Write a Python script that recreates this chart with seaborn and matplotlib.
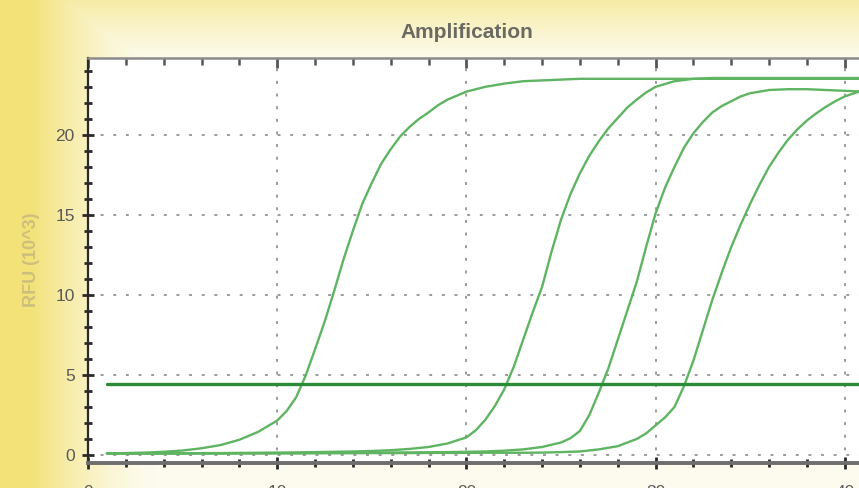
import numpy as np
import pandas as pd
import matplotlib
matplotlib.use("Agg")
import matplotlib.pyplot as plt
from matplotlib.ticker import MultipleLocator
import seaborn as sns

# ---- data ----
cycles = list(range(1, 42))
well_a = [0.10, 0.12, 0.15, 0.20, 0.28, 0.42, 0.62, 0.95, 1.45, 2.15,
          3.60, 6.60, 10.2, 14.0, 17.0, 19.1, 20.5, 21.4, 22.2, 22.7,
          23.0, 23.2, 23.35, 23.4, 23.45, 23.5, 23.5, 23.5, 23.5, 23.5,
          23.5, 23.5, 23.5, 23.5, 23.5, 23.5, 23.5, 23.5, 23.5, 23.5, 23.5]
well_b = [0.10, 0.10, 0.10, 0.10, 0.10, 0.12, 0.12, 0.13, 0.14, 0.15,
          0.16, 0.18, 0.20, 0.22, 0.25, 0.30, 0.38, 0.50, 0.72, 1.10,
          2.20, 4.10, 7.20, 10.5, 14.7, 17.6, 19.6, 21.05, 22.2, 23.0,
          23.35, 23.5, 23.55, 23.55, 23.55, 23.55, 23.55, 23.55, 23.55, 23.55, 23.55]
well_c = [0.10, 0.10, 0.10, 0.10, 0.10, 0.10, 0.10, 0.11, 0.11, 0.12,
          0.12, 0.13, 0.13, 0.14, 0.14, 0.15, 0.16, 0.17, 0.18, 0.20,
          0.22, 0.27, 0.35, 0.50, 0.78, 1.50, 3.90, 7.20, 10.8, 15.1,
          18.0, 20.1, 21.4, 22.1, 22.6, 22.8, 22.85, 22.85, 22.8, 22.75, 22.7]
well_d = [0.10, 0.10, 0.10, 0.10, 0.10, 0.10, 0.10, 0.10, 0.10, 0.10,
          0.10, 0.11, 0.11, 0.11, 0.12, 0.12, 0.12, 0.13, 0.13, 0.13,
          0.14, 0.14, 0.14, 0.15, 0.18, 0.22, 0.35, 0.55, 1.00, 1.85,
          3.00, 5.90, 9.70, 13.0, 15.7, 18.0, 19.7, 20.9, 21.75, 22.4, 22.8]

# extra half-cycle readings in the rising part of each curve
half_a_x = [10.5, 11.5, 12.5, 13.5, 14.5, 15.5, 16.5, 17.5, 18.5, 19.5]
half_a_y = [2.75, 4.95, 8.3, 12.2, 15.7, 18.2, 19.9, 21.0, 21.85, 22.45]
half_b_x = [20.5, 21.5, 22.5, 23.5, 24.5, 25.5, 26.5, 27.5, 28.5, 29.5]
half_b_y = [1.55, 3.05, 5.5, 8.9, 12.7, 16.3, 18.7, 20.4, 21.7, 22.65]
half_c_x = [25.5, 26.5, 27.5, 28.5, 29.5, 30.5, 31.5, 32.5, 33.5, 34.5]
half_c_y = [1.05, 2.5, 5.4, 9.0, 13.0, 16.7, 19.2, 20.8, 21.8, 22.4]
half_d_x = [29.5, 30.5, 31.5, 32.5, 33.5, 34.5, 35.5, 36.5, 37.5, 38.5, 39.5, 40.5]
half_d_y = [1.35, 2.35, 4.3, 7.8, 11.4, 14.4, 16.9, 18.9, 20.35, 21.35, 22.1, 22.6]

threshold = 4.45
threshold_range = [1, 45]

title = "Amplification"
ylabel = "RFU (10^3)"
xticks = [0, 10, 20, 30, 40]
yticks = [0, 5, 10, 15, 20]

# ---- figure ----
sns.set_theme(style="white")
plt.rcParams["font.family"] = ["Liberation Sans", "DejaVu Sans"]

W, H = 859, 488
fig = plt.figure(figsize=(W / 100, H / 100), dpi=100)

# background gradient (yellow left/top fading to cream-white)
bg = fig.add_axes([0, 0, 1, 1], zorder=-10)
xx, yy = np.meshgrid(np.arange(W), np.arange(H))
wl = np.clip(1 - (xx - 30) / 125.0, 0, 1) ** 1.5
wt = np.clip(1 - yy / 62.0, 0, 1) ** 1.2 * 0.62
w = np.maximum(wl, wt)
yellow = np.array([243, 226, 120]) / 255.0
cream = np.array([253, 251, 238]) / 255.0
img = cream[None, None, :] * (1 - w[..., None]) + yellow[None, None, :] * w[..., None]
bg.imshow(img, aspect="auto", extent=[0, W, H, 0])
bg.set_axis_off()

x_per_cycle = 18.92
xmax = 45
ax_left = 88 / W
ax_bottom = (H - 463) / H
ax_top = (H - 58) / H
ax = fig.add_axes([ax_left, ax_bottom, xmax * x_per_cycle / W, ax_top - ax_bottom])
ax.set_facecolor("white")

frames = []
for name, ys, hx, hy in [("A", well_a, half_a_x, half_a_y),
                         ("B", well_b, half_b_x, half_b_y),
                         ("C", well_c, half_c_x, half_c_y),
                         ("D", well_d, half_d_x, half_d_y)]:
    frames.append(pd.DataFrame({"cycle": cycles + hx, "rfu": ys + hy, "well": name}))
df = pd.concat(frames).sort_values(["well", "cycle"]).reset_index(drop=True)

curve_green = "#5fb462"
sns.lineplot(data=df, x="cycle", y="rfu", hue="well", units="well", estimator=None,
             palette=[curve_green] * 4, linewidth=1.7, legend=False, ax=ax, zorder=3)
for ln in ax.get_lines():
    ln.set_solid_joinstyle("round")
    ln.set_solid_capstyle("round")
sns.lineplot(x=threshold_range, y=[threshold, threshold], color="#2b8b37",
             linewidth=2.4, ax=ax, zorder=4)

ax.set_xlim(0, xmax)
ax.set_ylim(-0.5, 24.8)
ax.set_xticks(xticks)
ax.set_yticks(yticks)
ax.xaxis.set_minor_locator(MultipleLocator(2))
ax.yaxis.set_minor_locator(MultipleLocator(1))

ax.grid(True, which="major", color="#9a9a9a", linestyle=(0, (1.5, 5.0)), linewidth=1.4, zorder=1)

ax.spines["left"].set_color("#2a2a2a")
ax.spines["left"].set_linewidth(1.6)
ax.spines["bottom"].set_color("#6e6e6e")
ax.spines["bottom"].set_linewidth(2.8)
ax.spines["top"].set_color("#8a8a8a")
ax.spines["top"].set_linewidth(1.8)
ax.spines["right"].set_visible(False)

ax.tick_params(axis="both", which="major", direction="inout", length=9, width=2.0,
               color="#2a2a2a", labelsize=12.5, labelcolor="#5a5a5a")
ax.tick_params(axis="both", which="minor", direction="inout", length=6, width=2.0,
               color="#2a2a2a")
ax.tick_params(axis="y", which="major", pad=5, left=True)
ax.tick_params(axis="y", which="minor", left=True)
ax.tick_params(axis="x", which="major", pad=11, bottom=True)
ax.tick_params(axis="x", which="minor", bottom=True)

sec = ax.secondary_xaxis("top")
sec.set_xticks(xticks)
sec.xaxis.set_minor_locator(MultipleLocator(2))
sec.tick_params(which="major", direction="in", length=7, width=2.0, color="#555555", labeltop=False)
sec.tick_params(which="minor", direction="in", length=5, width=1.8, color="#555555")
sec.spines["top"].set_visible(False)

ax.set_xlabel("")
ax.set_ylabel("")
fig.text(31 / W, 1 - 260 / H, ylabel, rotation=90, ha="center", va="center",
         fontsize=13, fontweight="bold", color="#cdbf7c")
fig.text(467 / W, 1 - 32 / H, title, ha="center", va="center",
         fontsize=15, fontweight="bold", color="#6a6a62")

fig.savefig("out.png", dpi=100)
